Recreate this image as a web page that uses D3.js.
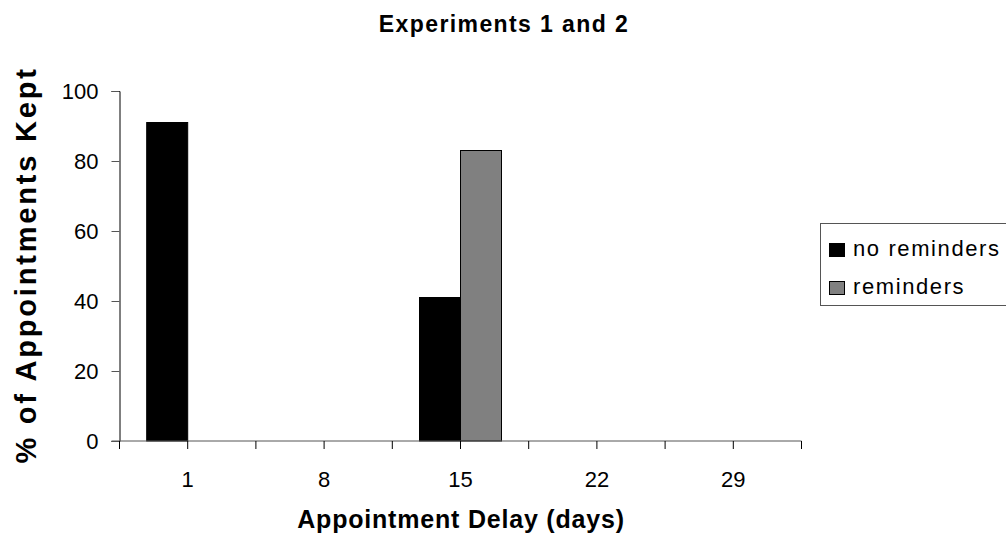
<!DOCTYPE html>
<html>
<head>
<meta charset="utf-8">
<script src="https://cdn.jsdelivr.net/npm/d3@7"></script>
<style>
  body { margin: 0; background: #fff; }
  svg { font-family: Arial, "Liberation Sans", sans-serif; }
</style>
</head>
<body>
<svg width="1006" height="540"></svg>
<script>
// categories on the x axis (days)
const days = ["1", "8", "15", "22", "29"];
const series = ["no reminders", "reminders"];
const noReminders = [91, null, 41, null, null];
const reminders = [null, null, 83, null, null];
const yTicks = [0, 20, 40, 60, 80, 100];
const colors = ["#000000", "#808080"];

const svg = d3.select("svg");
const area = { left: 119.5, right: 801.5, top: 91, bottom: 441 };

const scX = d3.scaleBand().domain(days).range([area.left, area.right]);
const scY = d3.scaleLinear().domain([0, 100]).range([area.bottom, area.top]);
const scSeries = d3.scaleBand().domain(series).range([0, 82]);

// bars
const table = [];
days.forEach((d, i) => {
  [noReminders, reminders].forEach((arr, j) => {
    if (arr[i] != null) table.push({ day: d, s: series[j], v: arr[i], c: colors[j] });
  });
});

svg.append("g").selectAll("rect")
  .data(table)
  .enter()
  .append("rect")
  .attr("x", d => scX(d.day) + scX.bandwidth() / 2 - 41 + scSeries(d.s))
  .attr("y", d => scY(d.v))
  .attr("width", scSeries.bandwidth())
  .attr("height", d => scY(0) - scY(d.v))
  .attr("fill", d => d.c)
  .attr("stroke", "#000")
  .attr("stroke-width", 1);

// y axis
const axisY = d3.axisLeft(scY).tickValues(yTicks).tickSize(8).tickPadding(13);
const gy = svg.append("g")
  .attr("transform", `translate(${area.left}, 0)`)
  .call(axisY);
gy.select(".domain").attr("stroke", "#000");
gy.selectAll(".tick line").attr("stroke", "#555");
gy.selectAll("text").attr("font-size", 22).attr("fill", "#000")
  .attr("dy", "0.36em")
  .attr("font-family", "Arial, 'Liberation Sans', sans-serif");

// x axis: ticks at band edges and band centres
const tickPos = [];
days.forEach(d => { tickPos.push(scX(d)); tickPos.push(scX(d) + scX.bandwidth() / 2); });
tickPos.push(area.right);
const gx = svg.append("g");
gx.append("line")
  .attr("x1", area.left - 8).attr("x2", area.right)
  .attr("y1", area.bottom).attr("y2", area.bottom)
  .attr("stroke", "#555");
gx.selectAll(".tk")
  .data(tickPos)
  .enter()
  .append("line")
  .attr("x1", d => d).attr("x2", d => d)
  .attr("y1", area.bottom).attr("y2", area.bottom + 8)
  .attr("stroke", "#000");
gx.selectAll(".lbl")
  .data(days)
  .enter()
  .append("text")
  .attr("x", d => scX(d) + scX.bandwidth() / 2)
  .attr("y", 487)
  .attr("text-anchor", "middle")
  .attr("font-size", 22)
  .text(d => d);

// titles
svg.append("text")
  .attr("x", 504).attr("y", 32)
  .attr("text-anchor", "middle")
  .attr("font-size", 23).attr("font-weight", "bold")
  .attr("letter-spacing", 1.4)
  .text("Experiments 1 and 2");

svg.append("text")
  .attr("x", 461).attr("y", 528)
  .attr("text-anchor", "middle")
  .attr("font-size", 25).attr("font-weight", "bold")
  .attr("letter-spacing", 0.8)
  .text("Appointment Delay (days)");

svg.append("text")
  .attr("transform", "translate(36, 265) rotate(-90)")
  .attr("text-anchor", "middle")
  .attr("font-size", 29).attr("font-weight", "bold")
  .attr("letter-spacing", 2.8)
  .text("% of Appointments Kept");

// legend
const lg = svg.append("g");
lg.append("rect")
  .attr("x", 820.5).attr("y", 223.5)
  .attr("width", 200).attr("height", 82)
  .attr("fill", "#fff").attr("stroke", "#555");
series.forEach((s, i) => {
  lg.append("rect")
    .attr("x", 829.5).attr("y", 243.5 + i * 38)
    .attr("width", 15).attr("height", 13)
    .attr("fill", colors[i]).attr("stroke", "#000");
  lg.append("text")
    .attr("x", 853).attr("y", 256 + i * 38)
    .attr("font-size", 22)
    .attr("letter-spacing", 1.6)
    .text(s);
});
</script>
</body>
</html>
